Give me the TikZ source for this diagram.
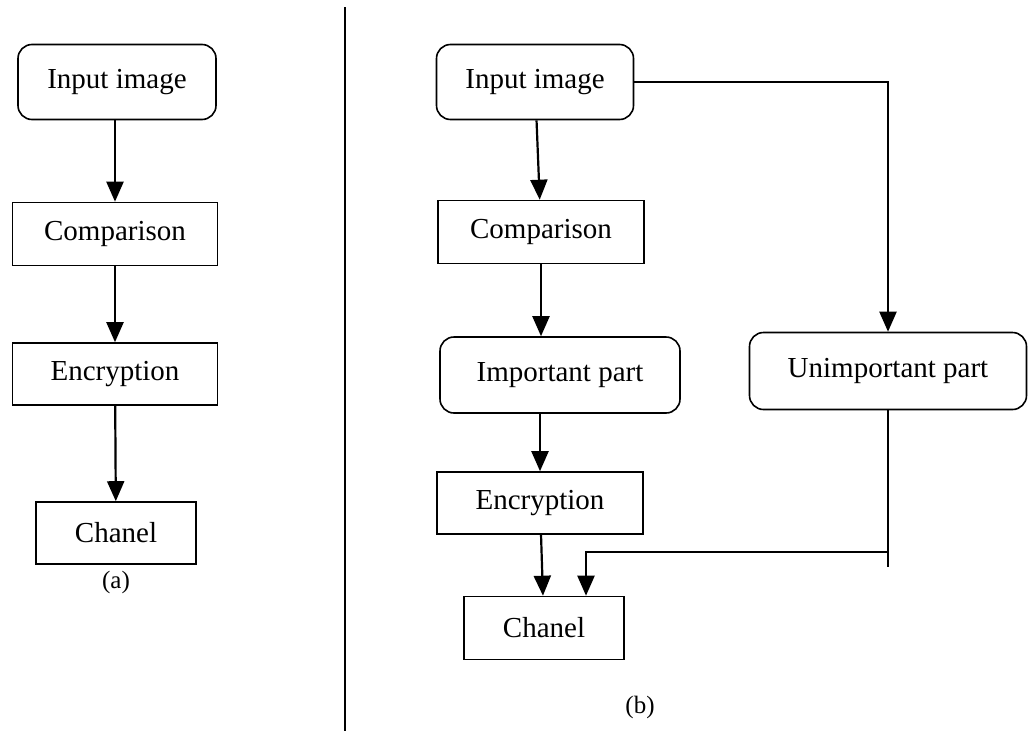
\documentclass[tikz,border=0pt]{standalone}
\usepackage{fontspec}
\setmainfont{Liberation Serif}
\usetikzlibrary{positioning}
\usetikzlibrary{arrows.meta}

\begin{document}
\begin{tikzpicture}[x=1pt,y=-1pt,line width=1.6pt,
  box/.style={draw,rectangle,inner sep=0pt,font=\fontsize{29}{34}\selectfont},
  rbox/.style={box,rounded corners=14pt},
  caption/.style={font=\fontsize{25}{30}\selectfont},
  flow/.style={-{Triangle[length=20pt,width=17pt]},line width=2.2pt}]
  \useasboundingbox (0,0) rectangle (1030,731);
  % left: (a)
  \node[rbox,minimum width=198pt,minimum height=75pt](ainput) at (117,82) {Input image};
  \node[box,minimum width=205pt,minimum height=63pt](acomp) at (115,234) {Comparison};
  \node[box,minimum width=205pt,minimum height=62pt](aenc) at (115,374) {Encryption};
  \node[box,minimum width=160pt,minimum height=62pt](achan) at (116,533) {Chanel};
  \node[caption,below=2pt of achan](capa) {(a)};
  \draw[flow] (acomp |- ainput.south)--(acomp);
  \draw[flow] (acomp)--(aenc);
  \draw[flow] (aenc)--(achan);
  % divider
  \coordinate (divtop) at (345,7);
  \coordinate (divbot) at (345,731);
  \draw (divtop)--(divbot);
  % right: (b)
  \node[rbox,minimum width=197pt,minimum height=75pt](binput) at (535,82) {Input image};
  \node[box,minimum width=206pt,minimum height=63pt](bcomp) at (541,232) {Comparison};
  \node[rbox,minimum width=240pt,minimum height=76pt](bimp) at (560,375) {Important part};
  \node[box,minimum width=206pt,minimum height=62pt](benc) at (540,503) {Encryption};
  \node[box,minimum width=160pt,minimum height=63pt](bchan) at (544,628) {Chanel};
  \node[rbox,minimum width=277pt,minimum height=77pt](bunimp) at (888,371) {Unimportant part};
  \node[caption](capb) at (640,707) {(b)};
  \draw[flow] (binput)--(bcomp);
  \draw[flow] (bcomp)--(bcomp |- bimp.north);
  \draw[flow] (benc |- bimp.south)--(benc);
  \draw[flow] (benc)--(bchan);
  \draw[flow] (binput.east) -| (bunimp.north);
  \coordinate (tail) at (888,567);
  \coordinate (joint) at (888,552);
  \draw (bunimp.south)--(tail);
  \draw[flow] (joint) -| ([xshift=42pt]bchan.north);
\end{tikzpicture}
\end{document}
